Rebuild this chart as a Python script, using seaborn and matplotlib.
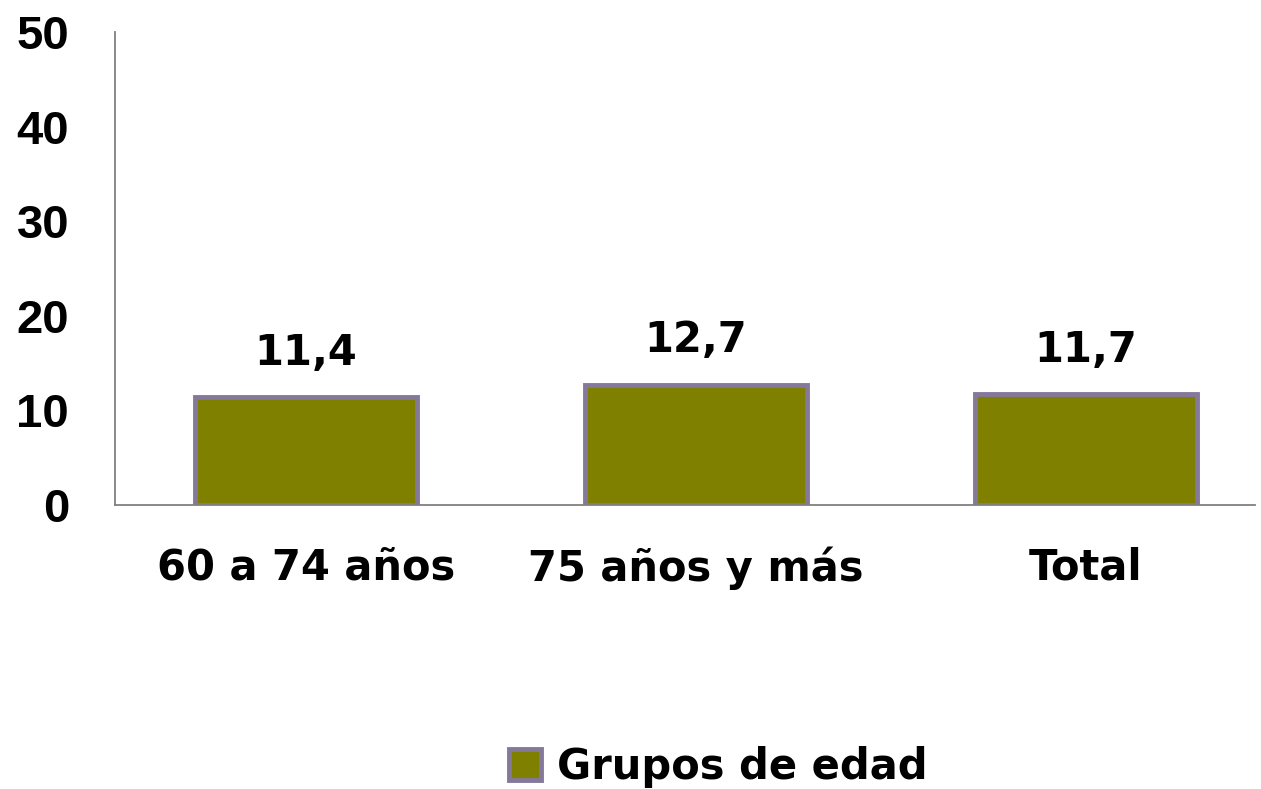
import matplotlib
matplotlib.use("Agg")
import matplotlib.pyplot as plt
import pandas as pd
import seaborn as sns

# Datos
categorias = ["60 a 74 años", "75 años y más", "Total"]
valores = [11.4, 12.7, 11.7]
etiquetas = ["11,4", "12,7", "11,7"]
serie = "Grupos de edad"
yticks = [0, 10, 20, 30, 40, 50]

data = pd.DataFrame({"categoria": categorias, "valor": valores, "serie": [serie] * len(categorias)})

sns.set_style("white")
plt.rcParams["font.family"] = ["DejaVu Sans"]
plt.rcParams["text.color"] = "black"
plt.rcParams["xtick.color"] = "black"
plt.rcParams["ytick.color"] = "black"

fig = plt.figure(figsize=(12.61, 7.89), dpi=100)
ax = fig.add_axes([0.0912, 0.36, 0.9038, 0.5994])

sns.barplot(data=data, x="categoria", y="valor", hue="serie",
            palette=["#808000"], saturation=1, width=0.57, edgecolor="#84789B",
            linewidth=3.5, ax=ax, dodge=False)

ax.set_xlim(-0.49, 2.433)
ax.set_ylim(0, 50)
ax.set_yticks(yticks)
ax.set_yticklabels([str(t) for t in yticks], fontsize=34, fontweight="bold",
                   family="Liberation Sans", color="black")
ax.tick_params(axis="y", length=0, pad=33)
ax.tick_params(axis="x", length=0, pad=30, labelsize=30, labelcolor="black")
for lbl in ax.get_xticklabels():
    lbl.set_fontweight("bold")
ax.set_xlabel("")
ax.set_ylabel("")

for s in ["top", "right"]:
    ax.spines[s].set_visible(False)
for s in ["left", "bottom"]:
    ax.spines[s].set_color("#808080")
    ax.spines[s].set_linewidth(1.3)

# Etiquetas de valor
for i, (v, t) in enumerate(zip(valores, etiquetas)):
    ax.annotate(t, (i, v), xytext=(0, 17), textcoords="offset points",
                ha="center", va="bottom", fontsize=30, fontweight="bold",
                color="black")

leg = ax.legend(loc="center", bbox_to_anchor=(0.57, 0.028), bbox_transform=fig.transFigure,
                frameon=False, prop={"size": 30, "weight": "bold"},
                handlelength=0.75, handleheight=0.75, handletextpad=0.4)
for txt in leg.get_texts():
    txt.set_color("black")

fig.savefig("out.png", dpi=100)
